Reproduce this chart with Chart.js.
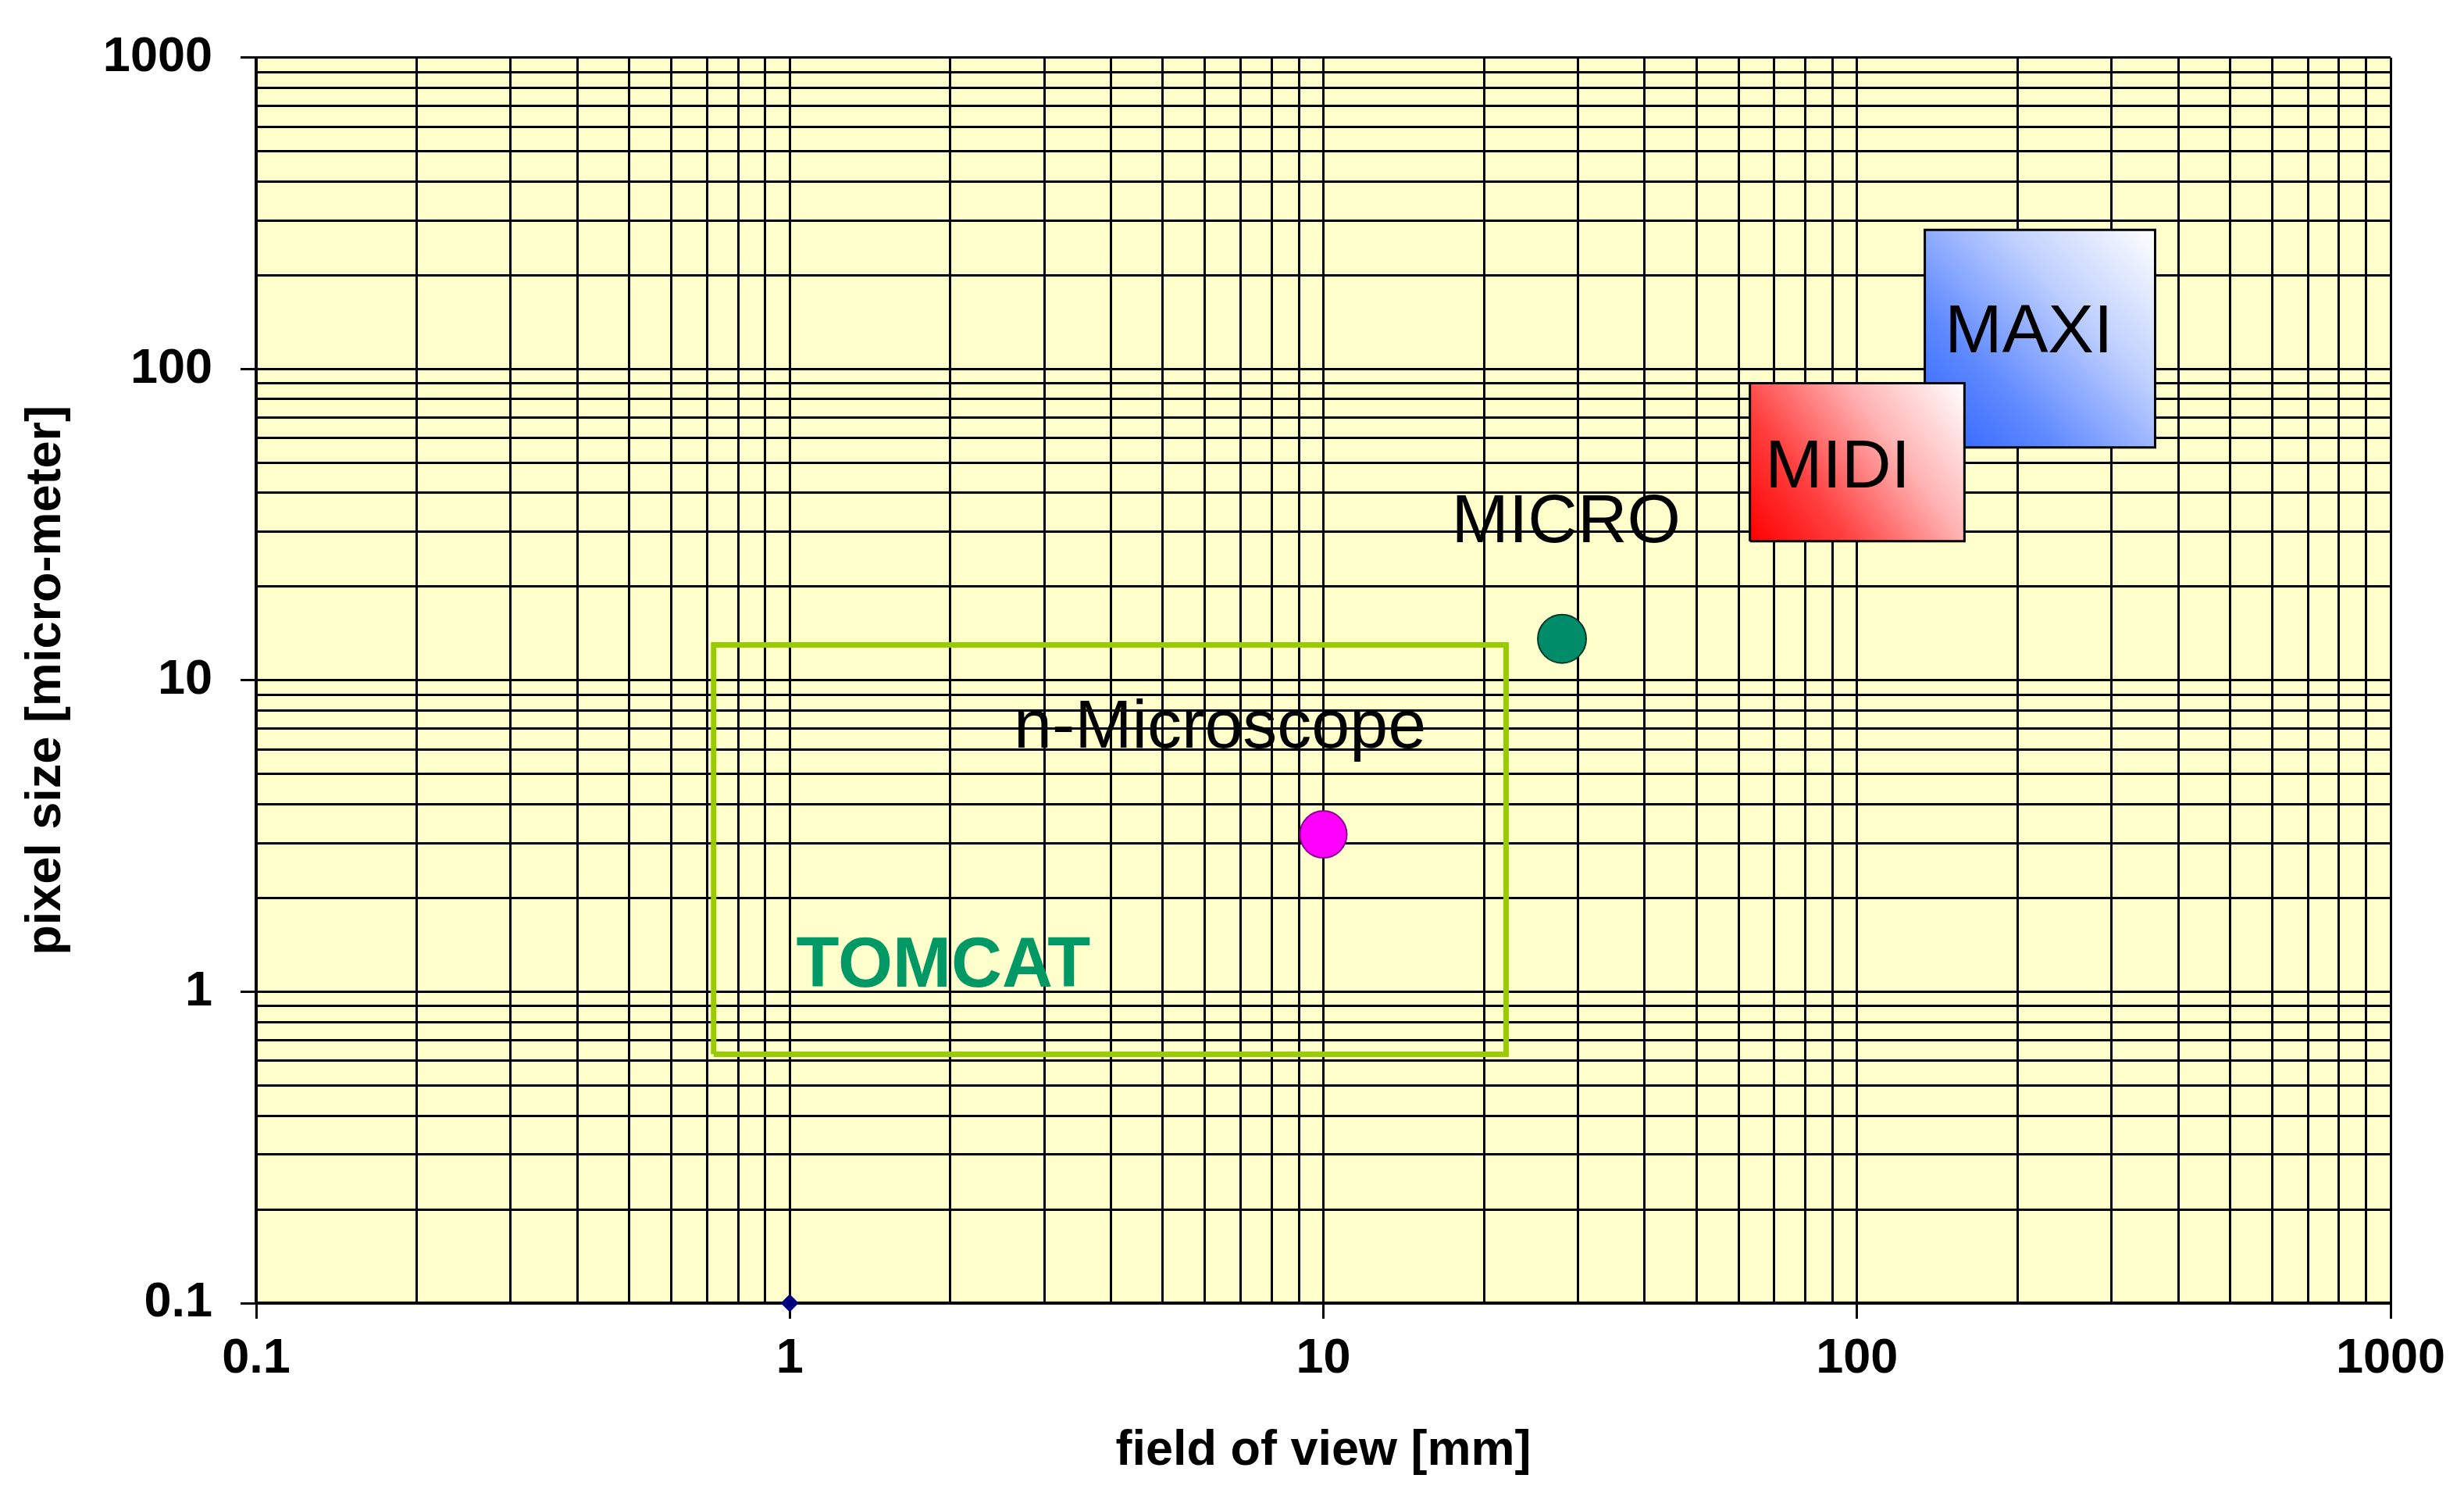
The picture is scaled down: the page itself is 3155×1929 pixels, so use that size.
<!DOCTYPE html>
<html lang="en">
<head>
  <meta charset="UTF-8" />
  <title>Pixel size vs field of view</title>
  <script src="https://cdn.jsdelivr.net/npm/chart.js"></script>
  <style>
    body { margin: 0; background: #fff; }
  </style>
</head>
<body>
  <canvas id="myChart" width="3155" height="1929"></canvas>

  <script>
    // decades on both log axes
    const axisTicks = [0.1, 1, 10, 100, 1000];

    // instrument ranges: [min, max] field of view [mm] / pixel size [micro-meter]
    const tomcatFov = [0.72, 22];
    const tomcatPixel = [0.63, 13];
    const midiFov = [63, 159];
    const midiPixel = [28, 90];
    const maxiFov = [134, 362];
    const maxiPixel = [56, 280];

    // single instruments
    const microPoint = [28, 13.6];
    const nanoPoint = [10, 3.2];
    const refPoint = [1, 0.1];

    // text labels (anchor in data units)
    const labelNames = ['MAXI', 'MIDI', 'MICRO', 'n-Microscope', 'TOMCAT'];
    const labelFov = [210, 92, 28.5, 6.4, 1.94];
    const labelPixel = [130, 48, 32, 7.0, 1.2];

    Chart.defaults.font.family = '"Liberation Sans", Arial, sans-serif';
    Chart.defaults.color = '#000';

    // grid at 1..9 of every decade
    const gridValues = [];
    axisTicks.forEach((m, i) => {
      if (i === axisTicks.length - 1) { gridValues.push(m); return; }
      for (let k = 1; k <= 9; k++) gridValues.push(m * k);
    });

    function rect(fov, pix) {
      return [
        {x: fov[0], y: pix[0]}, {x: fov[1], y: pix[0]},
        {x: fov[1], y: pix[1]}, {x: fov[0], y: pix[1]},
        {x: fov[0], y: pix[0]}
      ];
    }

    function mix(hex, t) {
      const n = parseInt(hex.slice(1), 16);
      const r = n >> 16, g = (n >> 8) & 255, b = n & 255;
      const f = c => Math.round(c + (255 - c) * t);
      return `rgb(${f(r)},${f(g)},${f(b)})`;
    }

    // diagonal gradient, colour at bottom-left to white at top-right
    function boxGradient(color, fov, pix) {
      return function(context) {
        const chart = context.chart;
        const sx = chart.scales.x, sy = chart.scales.y;
        if (!chart.chartArea || !sx || !sy) return color;
        const g = chart.ctx.createLinearGradient(
          sx.getPixelForValue(fov[0]), sy.getPixelForValue(pix[0]),
          sx.getPixelForValue(fov[1]), sy.getPixelForValue(pix[1]));
        g.addColorStop(0, color);
        g.addColorStop(0.3, mix(color, 0.25));
        g.addColorStop(0.65, mix(color, 0.7));
        g.addColorStop(1, '#ffffff');
        return g;
      };
    }

    const isMajor = v => axisTicks.includes(v);

    const plotPlugin = {
      id: 'plotExtras',
      beforeDraw(chart) {
        const {ctx, chartArea: a} = chart;
        ctx.save();
        ctx.fillStyle = '#FFFFCC';
        ctx.fillRect(a.left, a.top, a.right - a.left, a.bottom - a.top);
        ctx.restore();
      },
      afterDatasetsDraw(chart) {
        const {ctx, scales} = chart;
        ctx.save();
        ctx.textAlign = 'center';
        ctx.textBaseline = 'middle';
        labelNames.forEach((name, i) => {
          const px = scales.x.getPixelForValue(labelFov[i]);
          const py = scales.y.getPixelForValue(labelPixel[i]);
          if (name === 'TOMCAT') {
            ctx.font = 'bold 90px "Liberation Sans", Arial, sans-serif';
            ctx.fillStyle = '#009966';
          } else {
            ctx.font = '88px "Liberation Sans", Arial, sans-serif';
            ctx.fillStyle = '#000';
          }
          ctx.fillText(name, px, py);
        });
        ctx.restore();
      }
    };

    function axisOptions(title, lineWidth, padding, fitSize) {
      return {
        type: 'logarithmic',
        min: axisTicks[0],
        max: axisTicks[axisTicks.length - 1],
        afterBuildTicks: scale => {
          scale.ticks = gridValues.map(v => ({value: v}));
        },
        afterFit: scale => {
          if (scale.isHorizontal()) scale.height = fitSize;
          else scale.width = fitSize;
        },
        ticks: {
          autoSkip: false,
          maxRotation: 0,
          minRotation: 0,
          padding: padding,
          font: {size: 63, weight: 'bold'},
          color: '#000',
          callback: v => isMajor(v) ? String(v) : ''
        },
        grid: {
          color: '#000',
          lineWidth: lineWidth,
          tickLength: 20,
          tickWidth: 3,
          tickColor: c => (c.tick && isMajor(c.tick.value)) ? '#000' : 'rgba(0,0,0,0)'
        },
        border: {color: '#000', width: 4},
        title: {
          display: true,
          text: title,
          color: '#000',
          font: {size: 63, weight: 'bold'},
          padding: {top: 4, bottom: 4}
        }
      };
    }

    const ctx = document.getElementById('myChart').getContext('2d');
    const chart = new Chart(ctx, {
      type: 'line',
      data: {
        datasets: [
          {
            label: 'reference',
            data: [{x: refPoint[0], y: refPoint[1]}],
            showLine: false,
            pointStyle: 'rectRot',
            pointRadius: 11,
            backgroundColor: '#000080',
            borderColor: '#000080',
            borderWidth: 1,
            clip: false
          },
          {
            label: 'n-Microscope',
            data: [{x: nanoPoint[0], y: nanoPoint[1]}],
            showLine: false,
            pointRadius: 30,
            backgroundColor: '#FF00FF',
            borderColor: '#880088',
            borderWidth: 2
          },
          {
            label: 'MICRO',
            data: [{x: microPoint[0], y: microPoint[1]}],
            showLine: false,
            pointRadius: 31,
            backgroundColor: '#008C69',
            borderColor: '#003A2A',
            borderWidth: 2
          },
          {
            label: 'TOMCAT',
            data: rect(tomcatFov, tomcatPixel),
            borderColor: '#99CC00',
            borderWidth: 7,
            pointRadius: 0,
            fill: false,
            tension: 0
          },
          {
            label: 'MIDI',
            data: rect(midiFov, midiPixel),
            borderColor: '#000',
            borderWidth: 3,
            pointRadius: 0,
            fill: 'shape',
            backgroundColor: boxGradient('#FF0000', midiFov, midiPixel),
            tension: 0
          },
          {
            label: 'MAXI',
            data: rect(maxiFov, maxiPixel),
            borderColor: '#000',
            borderWidth: 3,
            pointRadius: 0,
            fill: 'shape',
            backgroundColor: boxGradient('#2A62FF', maxiFov, maxiPixel),
            tension: 0
          }
        ]
      },
      options: {
        responsive: false,
        animation: false,
        layout: {padding: {left: 18, top: 68, right: 94, bottom: 30}},
        plugins: {
          legend: {display: false},
          tooltip: {enabled: false}
        },
        scales: {
          x: axisOptions('field of view [mm]', 3, 14, 231),
          y: axisOptions('pixel size [micro-meter]', 3, 36, 310)
        }
      },
      plugins: [plotPlugin]
    });
  </script>
</body>
</html>
